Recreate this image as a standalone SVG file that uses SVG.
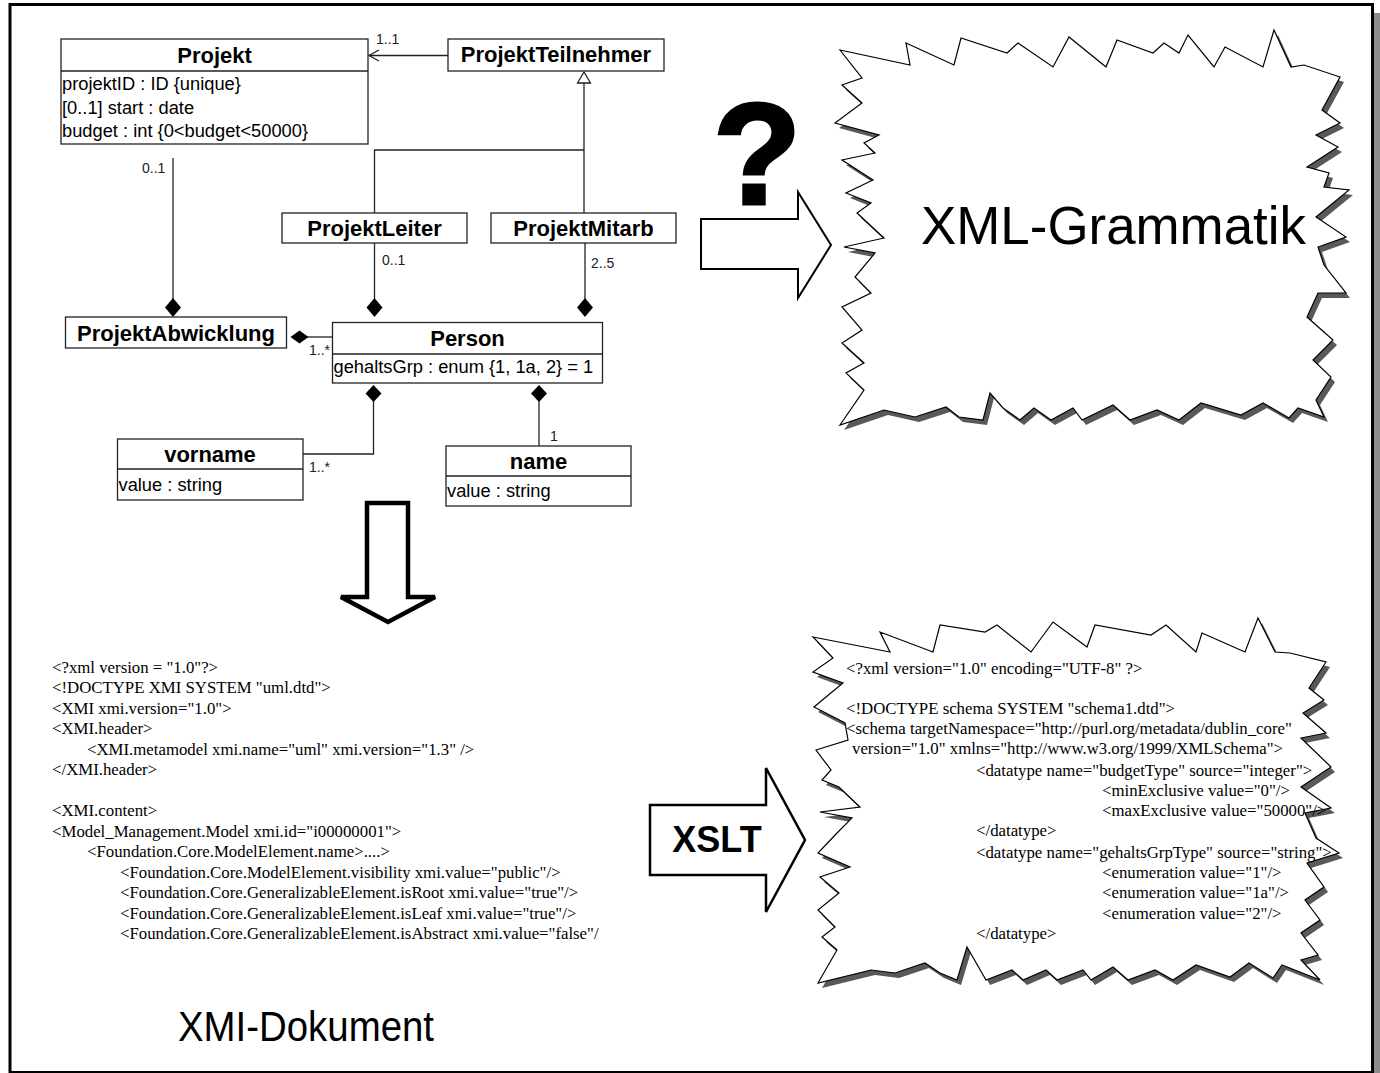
<svg xmlns="http://www.w3.org/2000/svg" width="1380" height="1073" viewBox="0 0 1380 1073">
<style>
.box{fill:#fff;stroke:#222;stroke-width:1.3}
.ln{fill:none;stroke:#222;stroke-width:1.3}
.dia{fill:#000;stroke:none}
.title{font-family:"Liberation Sans",Arial,sans-serif;font-weight:bold;font-size:22px;text-anchor:middle;fill:#000}
.attr{font-family:"Liberation Sans",Arial,sans-serif;font-size:18.3px;fill:#000}
.mult{font-family:"Liberation Sans",Arial,sans-serif;font-size:14px;fill:#222}
.code{font-family:"Liberation Serif","Times New Roman",serif;font-size:16.8px;fill:#000}
.jag{fill:#fff;stroke:#000;stroke-width:1.2;stroke-linejoin:miter}
.shadow{fill:#595959;stroke:none}
.block{fill:#fff;stroke:#000;stroke-linejoin:miter}
.big{font-family:"Liberation Sans",Arial,sans-serif;fill:#000}
</style>
<defs>
<polygon id="jag1" points="840,50 910,65 906,43 954,65 961,38 1007,53 1018,43 1053,67 1069,37 1106,67 1117,40 1153,53 1164,43 1179,53 1188,35 1214,67 1225,47 1263,67 1274,30 1291,67 1304,65 1340,77 1322,110 1340,123 1316,135 1338,147 1307,167 1329,173 1324,187 1349,190 1316,217 1346,237 1318,247 1324,265 1346,293 1318,293 1307,317 1333,340 1313,360 1331,377 1316,400 1324,417 1298,408 1289,418 1263,403 1241,415 1201,403 1179,420 1157,410 1130,420 1113,405 1082,420 1073,408 1051,420 1034,408 1020,420 1003,408 990,393 983,420 959,417 946,407 915,417 884,410 840,425 864,390 846,373 864,363 842,343 862,330 842,307 871,293 855,277 875,253 844,247 884,238 857,213 871,203 846,193 873,180 842,160 875,153 864,143 879,135 835,123 862,103 842,85 862,78"/>
<polygon id="jag2" points="813,637 890,652 880,632 933,652 940,625 985,632 997,625 1031,652 1053,622 1087,647 1095,625 1151,635 1166,625 1196,652 1202,633 1245,652 1258,618 1275,652 1290,653 1326,662 1309,688 1324,700 1303,713 1326,733 1301,738 1331,767 1301,787 1331,808 1305,813 1316,838 1339,853 1307,863 1324,887 1305,900 1320,920 1301,933 1318,955 1301,960 1320,980 1282,965 1273,978 1249,963 1230,977 1196,965 1173,980 1155,970 1128,980 1113,967 1091,980 1083,970 1057,980 1046,970 1023,980 1012,970 986,980 967,947 957,980 940,973 925,963 895,973 871,970 818,983 837,950 822,937 835,927 818,910 839,893 820,877 850,867 818,853 837,833 852,818 820,812 860,807 839,787 822,780 831,770 816,750 848,740 845,723 814,707 843,683 813,672 833,658"/>
</defs>

<g id="frame">
<rect x="17" y="13" width="1363" height="1068" fill="#8c8c8c"/>
<rect x="10" y="4.5" width="1362.5" height="1068" fill="#fff" stroke="#000" stroke-width="3"/>
</g>

<g id="connectors">
<line class="ln" x1="369" y1="55.5" x2="448" y2="55.5"/>
<polyline class="ln" points="379,50 369,55.5 379,61"/>
<line class="ln" x1="584" y1="83" x2="584" y2="213"/>
<polyline class="ln" points="374.5,213 374.5,150 584,150"/>
<polygon points="584,72 577.5,83 590.5,83" fill="#fff" stroke="#222" stroke-width="1.3"/>
<line class="ln" x1="173" y1="158" x2="173" y2="299"/>
<polygon class="dia" points="173,298 181,307.5 173,317 165,307.5"/>
<line class="ln" x1="374.5" y1="243" x2="374.5" y2="299"/>
<polygon class="dia" points="374.5,298 382.5,307.5 374.5,317 366.5,307.5"/>
<line class="ln" x1="585" y1="243" x2="585" y2="299"/>
<polygon class="dia" points="585,298 593,307.5 585,317 577,307.5"/>
<line class="ln" x1="307" y1="337" x2="332.5" y2="337"/>
<polygon class="dia" points="290.5,337 299.5,330.5 308.5,337 299.5,343.5"/>
<polyline class="ln" points="373.5,401 373.5,454 303,454"/>
<polygon class="dia" points="373.5,385 381.5,393.5 373.5,402 365.5,393.5"/>
<line class="ln" x1="539" y1="401" x2="539" y2="446"/>
<polygon class="dia" points="539,385 547,393.5 539,402 531,393.5"/>
<text class="mult" x="376" y="44">1..1</text>
<text class="mult" x="142" y="173">0..1</text>
<text class="mult" x="382" y="265">0..1</text>
<text class="mult" x="591" y="268">2..5</text>
<text class="mult" x="309" y="355">1..*</text>
<text class="mult" x="309" y="472">1..*</text>
<text class="mult" x="550" y="441">1</text>
</g>

<g id="projekt">
<rect class="box" x="61" y="39" width="307" height="105"/>
<line class="ln" x1="61" y1="71" x2="368" y2="71"/>
<text class="title" x="214.5" y="63">Projekt</text>
<text class="attr" x="62" y="90">projektID : ID {unique}</text>
<text class="attr" x="62" y="114">[0..1] start : date</text>
<text class="attr" x="62" y="137">budget : int {0&lt;budget&lt;50000}</text>
</g>

<g id="projektTeilnehmer">
<rect class="box" x="448" y="39" width="216" height="32"/>
<text class="title" x="556" y="62">ProjektTeilnehmer</text>
</g>

<g id="projektLeiter">
<rect class="box" x="282" y="213" width="185" height="30"/>
<text class="title" x="374.5" y="236">ProjektLeiter</text>
</g>

<g id="projektMitarb">
<rect class="box" x="491" y="213" width="185" height="30"/>
<text class="title" x="583.5" y="236">ProjektMitarb</text>
</g>

<g id="projektAbwicklung">
<rect class="box" x="65.5" y="317" width="221" height="31"/>
<text class="title" x="176" y="341">ProjektAbwicklung</text>
</g>

<g id="person">
<rect class="box" x="332.5" y="322.5" width="270" height="60.5"/>
<line class="ln" x1="332.5" y1="354" x2="602.5" y2="354"/>
<text class="title" x="467.5" y="346">Person</text>
<text class="attr" x="333.5" y="373">gehaltsGrp : enum {1, 1a, 2} = 1</text>
</g>

<g id="vorname">
<rect class="box" x="117.5" y="439" width="185.5" height="61"/>
<line class="ln" x1="117.5" y1="469" x2="303" y2="469"/>
<text class="title" x="210" y="462">vorname</text>
<text class="attr" x="118.5" y="491">value : string</text>
</g>

<g id="name">
<rect class="box" x="446" y="446" width="185" height="60"/>
<line class="ln" x1="446" y1="476" x2="631" y2="476"/>
<text class="title" x="538.5" y="469">name</text>
<text class="attr" x="447" y="497">value : string</text>
</g>

<g id="downArrow">
<polygon class="block" stroke-width="4.5" points="367,503 408,503 408,597 435,597 388,622 341,597 367,597"/>
</g>

<g id="question">
<text class="big" x="757" y="204" font-size="145" font-weight="bold" text-anchor="middle" stroke="#000" stroke-width="3">?</text>
</g>

<g id="arrowGrammatik">
<polygon class="block" stroke-width="2" points="701,219 798,219 798,192 831,245 798,298 798,269 701,269"/>
</g>

<g id="xmlGrammatik">
<use href="#jag1" class="shadow" transform="translate(4,5)"/>
<use href="#jag1" class="jag"/>
<text class="big" x="921" y="244" font-size="54" textLength="385" lengthAdjust="spacingAndGlyphs">XML-Grammatik</text>
</g>

<g id="xmiDocument">
<text class="code" x="52" y="673">&lt;?xml version = "1.0"?&gt;</text>
<text class="code" x="52" y="693">&lt;!DOCTYPE XMI SYSTEM "uml.dtd"&gt;</text>
<text class="code" x="52" y="714">&lt;XMI xmi.version="1.0"&gt;</text>
<text class="code" x="52" y="734">&lt;XMI.header&gt;</text>
<text class="code" x="87" y="755">&lt;XMI.metamodel xmi.name="uml" xmi.version="1.3" /&gt;</text>
<text class="code" x="52" y="775">&lt;/XMI.header&gt;</text>
<text class="code" x="52" y="816">&lt;XMI.content&gt;</text>
<text class="code" x="52" y="837">&lt;Model_Management.Model xmi.id="i00000001"&gt;</text>
<text class="code" x="87" y="857">&lt;Foundation.Core.ModelElement.name&gt;....&gt;</text>
<text class="code" x="120" y="878">&lt;Foundation.Core.ModelElement.visibility xmi.value="public"/&gt;</text>
<text class="code" x="120" y="898">&lt;Foundation.Core.GeneralizableElement.isRoot xmi.value="true"/&gt;</text>
<text class="code" x="120" y="919">&lt;Foundation.Core.GeneralizableElement.isLeaf xmi.value="true"/&gt;</text>
<text class="code" x="120" y="939">&lt;Foundation.Core.GeneralizableElement.isAbstract xmi.value="false"/</text>
<text class="big" x="178" y="1041" font-size="42" textLength="256" lengthAdjust="spacingAndGlyphs">XMI-Dokument</text>
</g>

<g id="xsltArrow">
<polygon class="block" stroke-width="2.5" points="650,805 766,805 766,768 805,840 766,912 766,875 650,875"/>
<text class="big" x="717" y="852" font-size="36" font-weight="bold" text-anchor="middle">XSLT</text>
</g>

<g id="xmlSchema">
<use href="#jag2" class="shadow" transform="translate(4,5)"/>
<use href="#jag2" class="jag"/>
<text class="code" x="846" y="674">&lt;?xml version="1.0" encoding="UTF-8" ?&gt;</text>
<text class="code" x="846" y="714">&lt;!DOCTYPE schema SYSTEM "schema1.dtd"&gt;</text>
<text class="code" x="846" y="734">&lt;schema targetNamespace="http://purl.org/metadata/dublin_core"</text>
<text class="code" x="852" y="754">version="1.0" xmlns="http://www.w3.org/1999/XMLSchema"&gt;</text>
<text class="code" x="976" y="776">&lt;datatype name="budgetType" source="integer"&gt;</text>
<text class="code" x="1102" y="796">&lt;minExclusive value="0"/&gt;</text>
<text class="code" x="1102" y="816">&lt;maxExclusive value="50000"/&gt;</text>
<text class="code" x="976" y="836">&lt;/datatype&gt;</text>
<text class="code" x="976" y="858">&lt;datatype name="gehaltsGrpType" source="string"&gt;</text>
<text class="code" x="1102" y="878">&lt;enumeration value="1"/&gt;</text>
<text class="code" x="1102" y="898">&lt;enumeration value="1a"/&gt;</text>
<text class="code" x="1102" y="919">&lt;enumeration value="2"/&gt;</text>
<text class="code" x="976" y="939">&lt;/datatype&gt;</text>
</g>
</svg>
